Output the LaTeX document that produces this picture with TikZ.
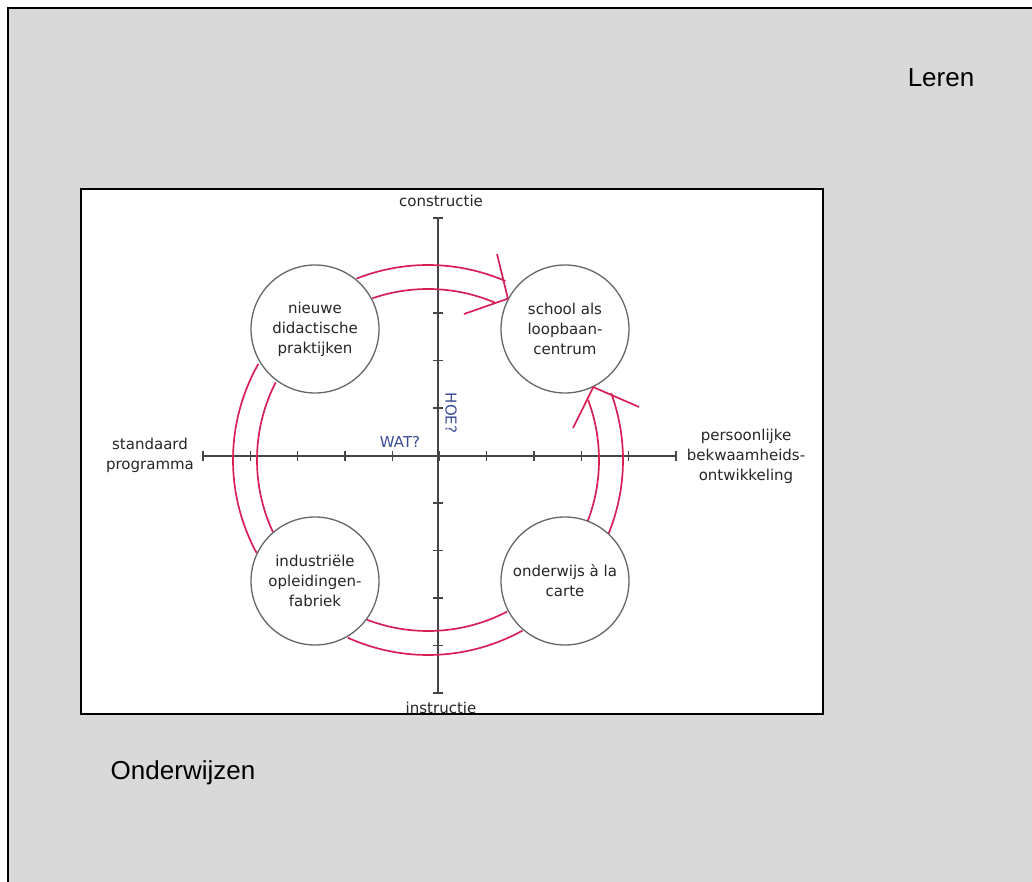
\documentclass[tikz,border=0pt]{standalone}
\usepackage{fontspec}
\setmainfont{DejaVu Sans}
\newfontfamily\arialfont{Liberation Sans}
\usetikzlibrary{positioning}
\definecolor{bandrood}{RGB}{214,32,86}
\definecolor{asgrijs}{RGB}{70,70,70}
\definecolor{vraagblauw}{RGB}{58,76,150}
\definecolor{vlakgrijs}{RGB}{217,217,217}

\begin{document}
\begin{tikzpicture}[x=1pt, y=1pt,
  every node/.style={font=\fontsize{15}{20}\selectfont, text=black!85, align=center, inner sep=0pt},
  bol/.style={draw=black!60, line width=1.3pt, circle, fill=white, minimum size=128pt},
  as/.style={draw=asgrijs, line width=1.3pt},
  band/.style={draw=bandrood, line width=1.7pt},
  hoek/.style={font=\arialfont\fontsize{26}{30}\selectfont, text=black}]
  \useasboundingbox (0,0) rectangle (1032,-882);
  \fill[white] (0,0) rectangle (1032,-882);
  \draw[fill=vlakgrijs, line width=2pt] (8,-8) rectangle (1045,-895);
  \draw[fill=white, line width=2pt] (81,-189) rectangle (823,-714);

  % Assen
  \coordinate (links) at (203,-456);
  \coordinate (rechts) at (676,-456);
  \coordinate (boven) at (438,-218);
  \coordinate (onder) at (438,-693);
  \draw[as] (links) -- (rechts);
  \draw[as] (boven) -- (onder);
  \foreach \i in {0,...,10} {
    \draw[as] (203+47.3*\i,-451) -- (203+47.3*\i,-461);
    \draw[as] (433,-218-47.5*\i) -- (443,-218-47.5*\i);
  }

  % Banden
  \coordinate (m) at (428,-460);
  \draw[band] (m) ++(111.5:195) arc[start angle=111.5, end angle=66.6, radius=195];
  \draw[band] (m) ++(109:171) arc[start angle=109, end angle=66.9, radius=171];
  \draw[band] (m) ++(150.5:195) arc[start angle=150.5, end angle=208.5, radius=195];
  \draw[band] (m) ++(153:171) arc[start angle=153, end angle=205, radius=171];
  \draw[band] (m) ++(245.7:195) arc[start angle=245.7, end angle=299, radius=195];
  \draw[band] (m) ++(249:171) arc[start angle=249, end angle=297.6, radius=171];
  \draw[band] (m) ++(-22.3:195) arc[start angle=-22.3, end angle=20, radius=195];
  \draw[band] (m) ++(-21:171) arc[start angle=-21, end angle=20.6, radius=171];

  % Cirkels
  \node[bol] (didactiek) at (315,-329) {nieuwe\\didactische\\praktijken};
  \node[bol] (loopbaan) at (565,-329) {school als\\loopbaan-\\centrum};
  \node[bol] (fabriek) at (315,-581) {industriële\\opleidingen-\\fabriek};
  \node[bol] (carte) at (565,-581) {onderwijs à la\\carte};

  % Pijlpunten
  \coordinate (punt1) at (loopbaan.152);
  \coordinate (punt2) at (loopbaan.-64);
  \coordinate (arm1a) at (497,-254);
  \coordinate (arm1b) at (464,-314);
  \coordinate (arm2a) at (573,-428);
  \coordinate (arm2b) at (639,-407);
  \draw[band] (arm1a) -- (punt1) -- (arm1b);
  \draw[band] (arm2a) -- (punt2) -- (arm2b);

  % Teksten
  \node (constructie) at (441,-201) {constructie};
  \node[anchor=base] (instructie) at (441,-713) {instructie};
  \node (standaard) at (150,-455) {standaard\\programma};
  \node (persoonlijk) at (746,-456) {persoonlijke\\bekwaamheids-\\ontwikkeling};
  \node[text=vraagblauw] (wat) at (400,-442) {WAT?};
  \node[text=vraagblauw, rotate=-90] (hoe) at (451,-413) {HOE?};
  \node[hoek] (leren) at (941,-78) {Leren};
  \node[hoek] (onderwijzen) at (183,-773) {Onderwijzen};
\end{tikzpicture}
\end{document}
